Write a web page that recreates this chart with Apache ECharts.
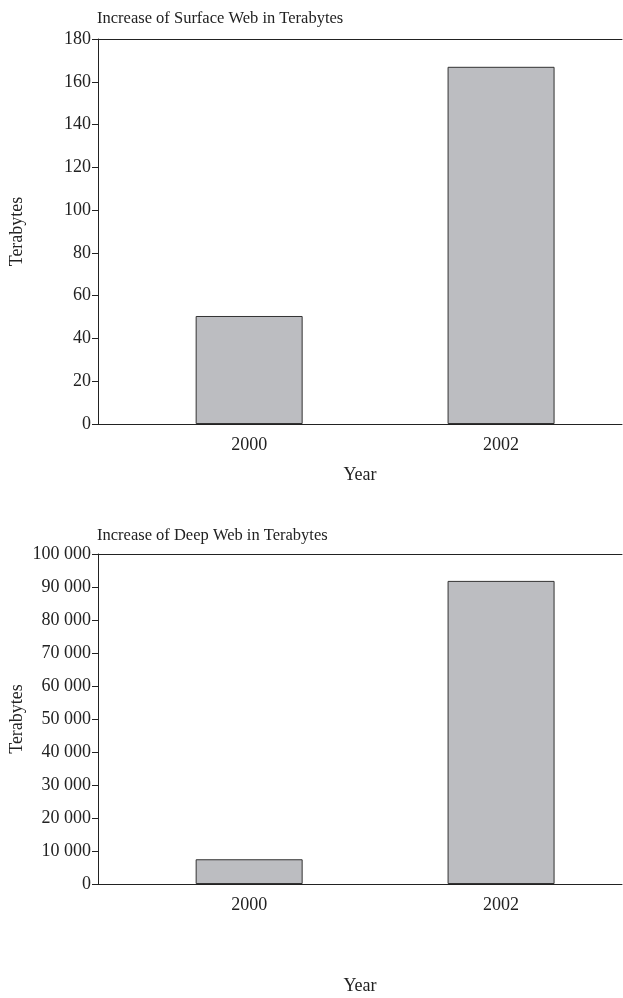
<!DOCTYPE html>
<html>
<head>
<meta charset="utf-8">
<script src="https://cdn.jsdelivr.net/npm/echarts@6/dist/echarts.min.js"></script>
<style>html,body{margin:0;padding:0;background:#fff}#c{width:623px;height:998px}</style>
</head>
<body>
<div id="c"></div>
<script>
const categories = ['2000', '2002'];
const surfaceValues = [50.5, 167];
const deepValues = [7500, 91850];
const surfaceTicks = [0, 20, 40, 60, 80, 100, 120, 140, 160, 180];
const deepTicks = [0, 10000, 20000, 30000, 40000, 50000, 60000, 70000, 80000, 90000, 100000];
const titles = ['Increase of Surface Web in Terabytes', 'Increase of Deep Web in Terabytes'];

const FONT = 'Liberation Serif';
const INK = '#222';
const chart = echarts.init(document.getElementById('c'), null, {renderer: 'canvas'});

function fmtSpace(v) {
  return String(Math.round(v)).replace(/\B(?=(\d{3})+(?!\d))/g, ' ');
}
function xLabel(v) {
  for (const c of categories) if (Math.abs(v - Number(c)) < 0.01) return c;
  return '';
}
const grids = [
  {left: 98, right: 1, top: 39, height: 385, containLabel: false, outerBoundsMode: 'none'},
  {left: 98, right: 1, top: 554, height: 330, containLabel: false, outerBoundsMode: 'none'}
];
function xAxes(gi) {
  return [{
    type: 'value', gridIndex: gi, min: 1998.8, max: 2002.96, interval: 0.4,
    position: 'bottom',
    axisLine: {lineStyle: {color: INK, width: 1}},
    axisTick: {show: false},
    splitLine: {show: false},
    axisLabel: {formatter: xLabel, color: INK, fontFamily: FONT, fontSize: 18, margin: 12,
      showMinLabel: false, showMaxLabel: false},
    name: 'Year', nameLocation: 'middle', nameGap: gi === 0 ? 42 : 93,
    nameMoveOverlap: false,
    nameTextStyle: {color: INK, fontFamily: FONT, fontSize: 18}
  }, {
    type: 'value', gridIndex: gi, min: 1998.8, max: 2002.96, position: 'top',
    axisLine: {show: true, lineStyle: {color: INK, width: 1}},
    axisTick: {show: false}, axisLabel: {show: false}, splitLine: {show: false}
  }];
}
function yAxis(gi, ticks, fmt) {
  return {
    type: 'value', gridIndex: gi, min: ticks[0], max: ticks[ticks.length - 1],
    interval: ticks[1] - ticks[0],
    axisLine: {show: true, lineStyle: {color: INK, width: 1}},
    axisTick: {show: true, length: 6, lineStyle: {color: INK}},
    splitLine: {show: false},
    axisLabel: {formatter: fmt, color: INK, fontFamily: FONT, fontSize: 18, margin: 7},
    name: 'Terabytes', nameLocation: 'middle', nameGap: 72,
    nameMoveOverlap: false,
    nameTextStyle: {color: INK, fontFamily: FONT, fontSize: 18}
  };
}
const barStyle = {color: '#bcbdc1', borderColor: '#333', borderWidth: 1};

const option = {
  animation: false,
  backgroundColor: '#fff',
  title: titles.map((t, i) => ({
    text: t, left: 92, top: i === 0 ? 5 : 522,
    textStyle: {fontFamily: FONT, fontSize: 16.5, fontWeight: 'normal', color: INK}
  })),
  grid: grids,
  xAxis: [...xAxes(0), ...xAxes(1)],
  yAxis: [yAxis(0, surfaceTicks, v => String(v)), yAxis(1, deepTicks, fmtSpace)],
  series: [
    {type: 'bar', xAxisIndex: 0, yAxisIndex: 0, barWidth: 107, itemStyle: barStyle,
      data: categories.map((c, i) => [Number(c), surfaceValues[i]])},
    {type: 'bar', xAxisIndex: 2, yAxisIndex: 1, barWidth: 107, itemStyle: barStyle,
      data: categories.map((c, i) => [Number(c), deepValues[i]])}
  ]
};
chart.setOption(option);
</script>
</body>
</html>
